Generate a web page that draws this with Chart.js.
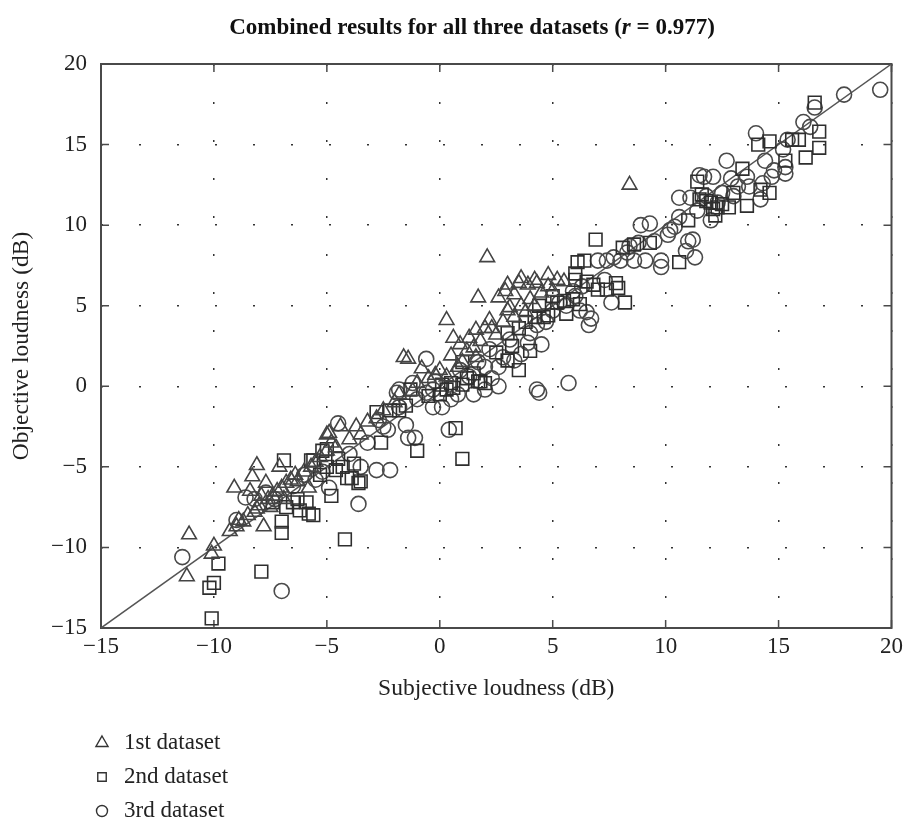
<!DOCTYPE html>
<html>
<head>
<meta charset="utf-8">
<script src="https://cdn.jsdelivr.net/npm/chart.js@4.4.1/dist/chart.umd.min.js"></script>
<style>
  html, body { margin: 0; padding: 0; background: #fff; }
  #wrap { width: 908px; height: 827px; }
</style>
</head>
<body>
<div id="wrap"><canvas id="grafico"></canvas></div>
<script>
const serif = "'Liberation Serif', 'Times New Roman', serif"

// eixos
const tickValues = [-15, -10, -5, 0, 5, 10, 15, 20]
const lineEnds = [-15, 20]

const legendLabels = ['1st dataset', '2nd dataset', '3rd dataset']

// [subjective, objective] em dB
const dataset1 = [
  [-11.1,-9.2],[-11.2,-11.8],[-10.0,-9.9],[-10.1,-10.4],[-9.1,-6.3],[-8.1,-4.9],[-7.1,-5.0],[-8.3,-5.6],
  [-6.4,-5.5],[-7.8,-8.7],[-8.1,-7.6],[-7.7,-6.0],[-5.8,-6.3],[-5.0,-3.0],[-3.7,-2.5],[-4.9,-2.9],
  [-4.4,-2.5],[-1.4,1.7],[-1.6,1.8],[2.1,8.0],[1.7,5.5],[0.3,4.1],[0.6,3.0],[0.5,1.9],[1.6,3.5],
  [2.0,3.6],[2.3,3.6],[1.5,2.4],[1.6,1.8],[3.0,6.3],[3.5,6.4],[3.9,6.3],[4.3,6.4],[3.0,4.7],[4.0,5.4],
  [-0.2,0.7],[8.4,12.5],[3.6,6.7],[4.2,6.6],[4.8,6.9],[5.2,6.6],[3.1,4.9],
  [-9.3,-9.0],[-9.0,-8.7],[-8.7,-8.4],[-8.5,-8.0],[-8.2,-7.8],[-8.0,-7.4],[-7.6,-7.0],[-7.4,-6.8],
  [-7.2,-6.5],[-7.0,-6.3],[-6.8,-6.0],[-6.6,-5.8],[-6.3,-5.9],[-6.0,-5.3],[-5.7,-5.0],[-5.5,-4.7],
  [-5.3,-4.4],[-5.0,-4.0],[-4.8,-3.5],[-6.9,-7.0],[-7.5,-7.5],[-8.4,-6.5],[-8.9,-8.3],[-7.9,-6.8],
  [-3.2,-2.2],[-2.5,-1.5],[-2.0,-1.0],[-1.8,-0.5],[-1.0,0.2],[-0.5,0.5],[0.0,1.0],[0.3,0.6],[0.8,1.2],
  [1.0,1.5],[1.2,2.2],[1.8,2.8],[2.5,3.2],[2.8,4.0],[3.3,4.3],[3.6,5.0],[3.8,4.6],[4.2,5.0],[4.5,5.8],
  [4.8,6.2],[5.0,5.9],[5.5,6.5],[2.6,5.5],[2.9,5.9],[3.3,5.7],[-0.8,1.1],[-1.2,-0.3],[0.9,2.6],
  [1.3,3.0],[2.2,4.1],[-2.8,-2.0],[-4.0,-3.3],[-4.6,-3.8],[-3.5,-3.0]
]

const dataset2 = [
  [-10.1,-14.4],[-10.2,-12.5],[-10.0,-12.2],[-9.8,-11.0],[-7.9,-11.5],[-6.9,-4.6],[-6.5,-7.2],[-7.0,-8.4],
  [-7.0,-9.1],[-5.9,-7.2],[-5.8,-7.9],[-5.6,-8.0],[-4.2,-9.5],[-6.2,-7.7],[-5.7,-4.6],[-5.2,-4.0],
  [-4.8,-6.8],[-4.1,-5.7],[-2.8,-1.6],[-2.6,-3.5],[-1.0,-4.0],[1.0,-4.5],[0.7,-2.6],[-1.3,-0.2],
  [0.1,0.1],[0.5,0.2],[1.0,0.1],[1.7,0.3],[2.0,0.2],[1.0,1.5],[3.0,1.6],[3.5,1.0],[4.0,2.2],[3.0,3.3],
  [0.0,-0.5],[-1.8,-1.5],[-5.6,-4.6],[-5.0,-3.9],[-3.9,-5.7],
  [6.9,9.1],[6.1,7.7],[6.4,7.8],[6.0,7.0],[6.0,6.6],[7.9,6.1],[8.2,5.2],[10.6,7.7],[11.4,12.7],
  [11.5,11.6],[12.0,11.4],[12.8,11.1],[13.0,12.0],[13.6,11.2],[14.2,12.2],[14.6,12.0],[14.1,15.0],
  [14.6,15.2],[15.6,15.3],[15.9,15.3],[15.3,14.0],[16.2,14.2],[16.8,15.8],[16.8,14.8],[16.6,17.6],
  [12.3,11.1],
  [-4.5,-4.5],[-4.3,-5.0],[-3.8,-4.8],[-3.6,-6.0],[-3.5,-5.9],[-4.6,-5.2],[-5.3,-5.5],[-5.0,-5.0],
  [-6.8,-7.5],[-6.3,-7.0],[-7.4,-7.2],[-0.5,-0.6],[0.3,-0.2],[0.6,-0.1],[1.2,0.5],[1.5,0.8],[1.8,0.3],
  [-1.5,-1.2],[-2.2,-1.5],[2.5,2.1],[3.2,2.5],[3.5,3.6],[3.8,4.0],[4.2,4.3],[4.6,4.3],[4.8,4.4],
  [5.0,5.6],[5.2,5.2],[5.5,5.3],[5.6,4.5],[5.9,5.4],[4.4,5.0],[6.5,6.5],[6.8,6.3],[7.0,6.0],[7.4,6.0],
  [7.8,6.4],[6.2,5.1],[8.1,8.6],[8.6,8.8],[9.3,8.9],[11.8,11.5],[12.1,11.0],[12.5,11.3],[11.0,10.3],
  [11.6,11.9],[12.2,10.6],[13.4,13.5]
]

const dataset3 = [
  [-11.4,-10.6],[-7.0,-12.7],[-4.5,-2.3],[-8.6,-6.9],[-7.7,-6.6],[-4.9,-6.3],[-0.6,1.7],[-1.8,-0.2],
  [-1.2,0.2],[2.0,-0.2],[2.6,0.0],[4.3,-0.2],[0.4,-2.7],[-1.4,-3.2],[-1.1,-3.2],[-1.5,-2.4],[-2.2,-5.2],
  [-2.8,-5.2],[3.9,2.7],[4.5,2.6],[2.6,1.2],[3.1,2.9],[2.0,1.2],[-0.6,-0.4],[-0.3,-1.3],[0.1,-1.3],
  [-2.7,-2.1],[-1.8,-1.3],[-2.3,-2.7],[5.7,0.2],
  [19.5,18.4],[17.9,18.1],[16.6,17.3],[16.1,16.4],[14.0,15.7],[15.4,15.3],[15.2,14.7],[15.3,13.2],
  [15.3,13.6],[14.8,13.4],[14.4,14.0],[14.2,11.6],[12.7,14.0],[11.7,13.0],[12.1,13.0],[12.9,12.9],
  [13.6,13.0],[13.7,12.4],[11.1,11.7],[11.4,10.9],[12.0,10.3],[10.6,10.5],[10.4,9.9],[10.1,9.4],
  [9.3,10.1],[8.9,10.0],[9.5,9.0],[8.8,8.9],[8.4,8.7],[8.3,8.3],[8.0,7.8],[9.8,7.8],[9.8,7.4],
  [11.0,9.0],[11.2,9.1],[10.9,8.4],[11.3,8.0],[10.2,9.7],[9.1,7.8],[8.6,7.8],[7.4,7.8],[7.0,7.8],
  [7.7,8.0],[7.3,6.6],[7.6,5.2],[6.5,4.6],[11.5,13.1],[13.2,12.4],[10.6,11.7],
  [-3.6,-7.3],[-3.5,-5.0],[-6.5,-6.2],[-6.0,-5.5],[-5.5,-5.8],[-7.3,-7.0],[-4.0,-4.2],[-3.2,-3.5],
  [-2.5,-2.5],[-1.0,-0.8],[-0.3,-0.2],[0.5,-0.8],[0.8,-0.5],[1.3,0.6],[1.5,-0.5],[2.3,0.5],[2.8,1.8],
  [3.3,1.6],[3.6,2.0],[4.0,3.3],[4.3,3.8],[4.7,4.0],[5.0,4.7],[5.3,5.2],[5.6,5.0],[6.0,5.6],[6.3,6.2],
  [6.6,3.8],[6.7,4.2],[6.2,4.7],[5.9,5.9],[4.4,-0.4],[-0.2,0.3],[0.9,1.0],[1.7,1.5],[2.2,2.3],
  [12.5,12.0],[13.0,11.8],[12.3,11.4],[11.8,11.8],[14.3,12.6],[14.7,13.0],[16.4,16.1],[-5.2,-5.3],
  [-1.9,-0.4],[-8.2,-7.0],[-9.0,-8.3]
]

const toPoints = arr => arr.map(p => ({x: p[0], y: p[1]}))
const minus = v => v < 0 ? '\u2212' + Math.abs(v) : '' + v

// moldura, marcas internas, título e legenda
const extras = {
  id: 'extras',
  beforeDatasetsDraw(chart) {
    const {ctx, chartArea: a, scales: {x, y}} = chart
    ctx.save()
    ctx.strokeStyle = '#4a4a4a'
    ctx.lineWidth = 2
    ctx.strokeRect(a.left, a.top, a.right - a.left, a.bottom - a.top)
    ctx.lineWidth = 1.5
    ctx.beginPath()
    tickValues.forEach(v => {
      const px = x.getPixelForValue(v), py = y.getPixelForValue(v)
      ctx.moveTo(px, a.bottom); ctx.lineTo(px, a.bottom - 8)
      ctx.moveTo(px, a.top); ctx.lineTo(px, a.top + 8)
      ctx.moveTo(a.left, py); ctx.lineTo(a.left + 8, py)
      ctx.moveTo(a.right, py); ctx.lineTo(a.right - 8, py)
    })
    ctx.stroke()
    ctx.restore()
  },
  afterDraw(chart) {
    const ctx = chart.ctx
    ctx.save()
    ctx.fillStyle = '#111'
    ctx.textBaseline = 'middle'
    const parts = [
      ['bold 23px ' + serif, 'Combined results for all three datasets ('],
      ['bold italic 23px ' + serif, 'r'],
      ['bold 23px ' + serif, ' = 0.977)']
    ]
    let w = 0
    parts.forEach(p => { ctx.font = p[0]; w += ctx.measureText(p[1]).width })
    let tx = 472 - w / 2
    parts.forEach(p => { ctx.font = p[0]; ctx.fillText(p[1], tx, 28); tx += ctx.measureText(p[1]).width })

    // legenda vertical embaixo
    const sizes = [7, 6, 5.5]
    legendLabels.forEach((txt, i) => {
      const ds = chart.data.datasets[i]
      const ly = 743 + i * 34
      ctx.strokeStyle = '#333'
      ctx.fillStyle = 'rgba(0,0,0,0)'
      ctx.lineWidth = 1.4
      Chart.helpers.drawPoint(ctx, {pointStyle: ds.pointStyle, radius: sizes[i], borderWidth: 1.4}, 102, ly)
      ctx.fillStyle = '#222'
      ctx.font = '23px ' + serif
      ctx.fillText(txt, 124, ly)
    })
    ctx.restore()
  }
}

const markerStyle = (label, data, shape, radius, color) => ({
  type: 'scatter',
  label: label,
  data: toPoints(data),
  pointStyle: shape,
  pointRadius: radius,
  pointBorderWidth: 1.6,
  borderColor: color,
  backgroundColor: 'rgba(0,0,0,0)',
  showLine: false
})

const config = {
  type: 'scatter',
  data: {
    datasets: [
      markerStyle(legendLabels[0], dataset1, 'triangle', 8.5, '#444'),
      markerStyle(legendLabels[1], dataset2, 'rect', 9, '#2e2e2e'),
      markerStyle(legendLabels[2], dataset3, 'circle', 7.5, '#4a4a4a'),
      {
        type: 'line',
        label: 'y = x',
        data: lineEnds.map(v => ({x: v, y: v})),
        borderColor: '#555',
        borderWidth: 1.5,
        pointRadius: 0,
        fill: false,
        order: 10
      }
    ]
  },
  options: {
    responsive: true,
    maintainAspectRatio: false,
    animation: false,
    layout: { padding: { top: 64, right: 13, bottom: 121, left: 0 } },
    plugins: {
      legend: { display: false },
      title: { display: false },
      tooltip: { enabled: false }
    },
    scales: {
      x: {
        type: 'linear',
        min: -15, max: 20,
        afterFit: s => { s.height = 78 },
        ticks: { stepSize: 5, padding: 5, color: '#222', font: { family: serif, size: 23 }, callback: minus, maxRotation: 0, autoSkip: false },
        grid: { color: '#333', lineWidth: 1.5, drawTicks: false },
        border: { display: false, dash: [2, 36] },
        title: { display: true, text: 'Subjective loudness (dB)', color: '#222', font: { family: serif, size: 23.5 }, padding: { top: 0, bottom: 3 } }
      },
      y: {
        type: 'linear',
        min: -15, max: 20,
        afterFit: s => { s.width = 101 },
        ticks: { stepSize: 5, padding: 14, color: '#222', font: { family: serif, size: 23 }, callback: minus },
        grid: { color: '#333', lineWidth: 1.5, drawTicks: false },
        border: { display: false, dash: [2, 36] },
        title: { display: true, text: 'Objective loudness (dB)', color: '#222', font: { family: serif, size: 23.5 }, padding: { top: 8, bottom: 0 } }
      }
    }
  },
  plugins: [extras]
}

const myChart = new Chart(document.getElementById('grafico'), config)
</script>
</body>
</html>
